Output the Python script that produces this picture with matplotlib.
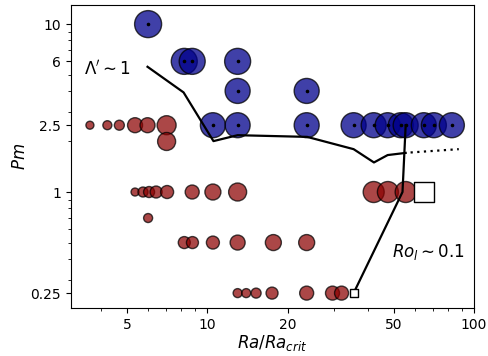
import matplotlib
matplotlib.use("Agg")
import matplotlib.pyplot as plt
import numpy as np

# red (below threshold) runs: Ra/Ra_crit, Pm, marker diameter (px)
red_x  = [3.63, 4.22, 4.68, 5.36, 5.97, 7.04, 7.04,
          5.36, 5.74, 6.05, 6.43, 7.07, 8.78, 10.5, 13.0,
          42.1, 47.6, 55.5,
          6.0,
          8.2, 8.8, 10.5, 13.0, 17.7, 23.6,
          13.0, 14.0, 15.25, 17.5, 23.6, 29.5, 31.9]
red_pm = [2.5, 2.5, 2.5, 2.5, 2.5, 2.5, 2.0,
          1, 1, 1, 1, 1, 1, 1, 1,
          1, 1, 1,
          0.7,
          0.5, 0.5, 0.5, 0.5, 0.5, 0.5,
          0.25, 0.25, 0.25, 0.25, 0.25, 0.25, 0.25]
red_d  = [8, 9, 10, 15, 15, 19, 18,
          8, 10, 11, 12, 13, 14, 16, 18,
          21, 21, 21,
          9,
          12, 12, 13, 15, 16, 16,
          9, 9, 10, 12, 14, 14, 14]

# blue (dynamo) runs
blue_x  = [6.0, 8.2, 8.78, 13.0, 13.0, 23.6,
           10.5, 13.0, 23.6, 35.4, 42.1, 47.5, 53.2, 55.5, 64.9, 70.8, 82.7]
blue_pm = [10, 6, 6, 6, 4, 4,
           2.5, 2.5, 2.5, 2.5, 2.5, 2.5, 2.5, 2.5, 2.5, 2.5, 2.5]
blue_d  = [27, 26, 26, 26, 25, 25,
           25, 25, 25, 25, 25, 25, 25, 25, 25, 25, 25]

# open squares
sq_x  = [35.4, 64.9]
sq_pm = [0.25, 1.0]
sq_d  = [8, 20]

# Lambda' ~ 1 boundary
lam_x  = [5.97, 8.15, 10.55, 13.0, 23.7, 35.4, 42.2, 47.5, 55.5]
lam_pm = [5.57, 3.92, 2.01, 2.18, 2.13, 1.80, 1.50, 1.66, 1.71]
# dotted extension
dot_x  = [57.9, 87.8]
dot_pm = [1.72, 1.80]
# Ro_l ~ 0.1 boundary
ro_x  = [55.5, 54.0, 35.4]
ro_pm = [2.5, 1.0, 0.25]

xticks = [5, 10, 20, 50, 100]
yticks = [0.25, 1, 2.5, 6, 10]
ytick_labels = ["0.25", "1", "2.5", "6", "10"]

dpi = 100
fig = plt.figure(figsize=(4.89, 3.56), dpi=dpi)
ax = fig.add_axes([0.145, 0.135, 0.824, 0.851])
ax.set_xscale("log")
ax.set_yscale("log")

def s_of(d):
    return (np.asarray(d) * 72.0 / dpi) ** 2

ax.scatter(red_x, red_pm, s=s_of(red_d), c="darkred", alpha=0.72,
           edgecolors="black", linewidths=1.0, zorder=2)
ax.scatter(blue_x, blue_pm, s=s_of(blue_d), c="darkblue", alpha=0.75,
           edgecolors="black", linewidths=1.0, zorder=2)
ax.scatter(blue_x, blue_pm, s=2.5, c="black", zorder=3)

ax.plot(lam_x, lam_pm, color="black", lw=1.6, zorder=4)
ax.plot(dot_x, dot_pm, color="black", lw=1.6, ls=(0, (1, 2)), zorder=4)
ax.plot(ro_x, ro_pm, color="black", lw=1.6, zorder=4)

ax.scatter(sq_x, sq_pm, s=s_of(sq_d), marker="s", c="white",
           edgecolors="black", linewidths=1.0, zorder=5)

ax.text(3.45, 5.4, r"$\Lambda' \sim 1$", fontsize=12, va="center", ha="left")
ax.text(49.5, 0.44, r"$Ro_l \sim 0.1$", fontsize=12, va="center", ha="left")

ax.set_xlim(3.08, 100)
ax.set_ylim(0.204, 13)
ax.set_xticks(xticks)
ax.set_xticklabels([str(t) for t in xticks])
ax.set_yticks(yticks)
ax.set_yticklabels(ytick_labels)
ax.tick_params(labelsize=10)
ax.set_xlabel(r"$Ra/Ra_{crit}$", fontsize=12, labelpad=1)
ax.set_ylabel(r"$Pm$", fontsize=12, labelpad=1)

fig.savefig("out.png", dpi=dpi)
